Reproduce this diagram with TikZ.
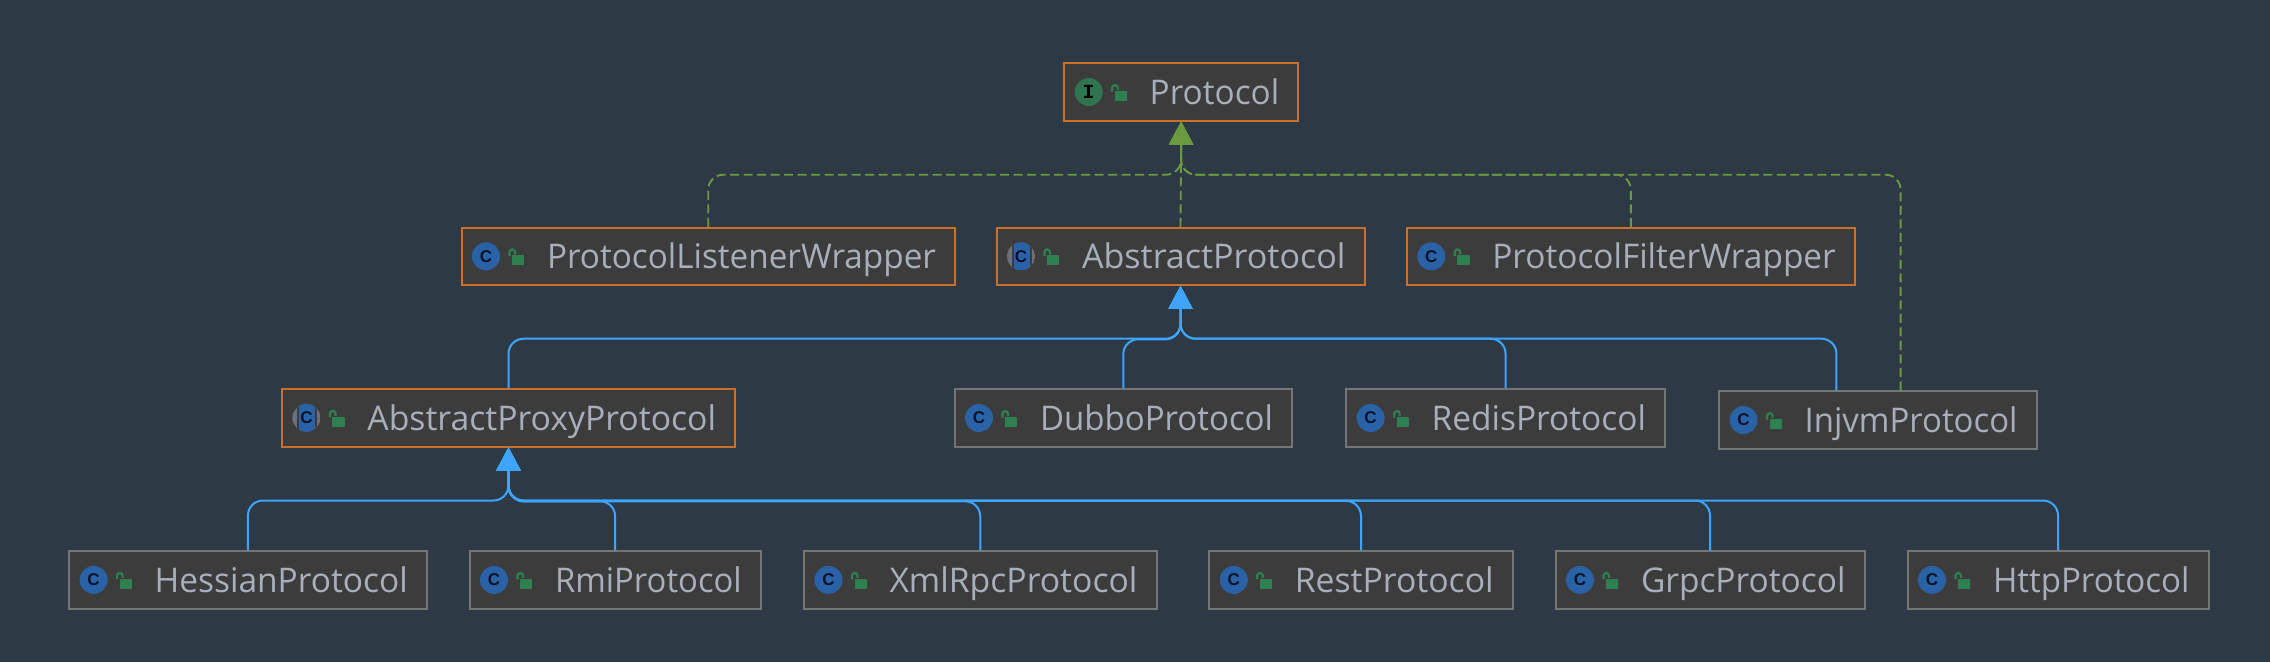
\documentclass[tikz,border=0pt]{standalone}
\usepackage{fontspec}
\setmainfont{Open Sans}
\newfontfamily\iconfont{Liberation Mono}
\newfontfamily\cfont{Liberation Sans}
\usetikzlibrary{arrows.meta}
\definecolor{bgc}{HTML}{2D3A46}
\definecolor{boxfill}{HTML}{3C3C3C}
\definecolor{orangeb}{HTML}{CC7029}
\definecolor{grayb}{HTML}{757575}
\definecolor{labelc}{HTML}{A7AFBC}
\definecolor{inhblue}{HTML}{3DA5FF}
\definecolor{implgreen}{HTML}{6A9A3F}
\definecolor{classblue}{HTML}{2A62A8}
\definecolor{ifacegreen}{HTML}{2E7550}
\definecolor{lockgreen}{HTML}{2F8050}
\definecolor{absgray}{HTML}{6F6E7E}
\definecolor{glyph}{HTML}{0A1228}
\tikzset{
  x=1pt,y=-1pt,
  umlbase/.style={draw,fill=boxfill,line width=2pt,inner sep=0pt,rectangle},
  selected/.style={umlbase,draw=orangeb},
  plain/.style={umlbase,draw=grayb},
  inh/.style={draw=inhblue,line width=2pt,rounded corners=15pt,-{Triangle[length=23pt,width=24pt]}},
  impl/.style={draw=implgreen,line width=1.9pt,dash pattern=on 9pt off 4.5pt,rounded corners=15pt,-{Triangle[length=23pt,width=24pt,fill=implgreen]}},
  labeltext/.style={text=labelc,anchor=base west,inner sep=0pt,outer sep=0pt},
  glyphtext/.style={text=glyph,inner sep=0pt,outer sep=0pt,font=\cfont\bfseries\fontsize{17}{17}\selectfont},
  iglyphtext/.style={text=black,inner sep=0pt,outer sep=0pt,font=\iconfont\bfseries\fontsize{20}{20}\selectfont}
}
\newcommand{\umlbox}[8]{%
  \pgfmathsetmacro{\cxv}{(#3+#5)/2}%
  \pgfmathsetmacro{\cyv}{(#4+#6)/2}%
  \pgfmathsetmacro{\wv}{#5-#3-1}%
  \pgfmathsetmacro{\hv}{#6-#4-1.5}%
  \pgfmathsetmacro{\twv}{#5-#3-105.5}%
  \node[#1,minimum width=\wv pt,minimum height=\hv pt] (#2) at (\cxv,\cyv) {};
  \node[labeltext] (#2-label) at (#3+86,\cyv+12.3) {\resizebox{\twv pt}{\height}{\fontsize{34}{40}\selectfont #7}};
  #8{#2}{#3}{\cyv}%
  \fill[lockgreen] (#3+51,\cyv-1.3) rectangle (#3+63.3,\cyv+8.7);
  \draw[lockgreen,line width=2.2pt,rounded corners=2.5pt] (#3+48.5,\cyv-0.5) -- (#3+48.5,\cyv-6.8) -- (#3+54,\cyv-6.8) -- (#3+54,\cyv-2);
}
\newcommand{\classicon}[3]{%
  \fill[classblue] (#2+25,#3) circle[radius=14];
  \node[glyphtext] (#1-icon) at (#2+25,#3) {C};
}
\newcommand{\ifaceicon}[3]{%
  \fill[ifacegreen] (#2+25,#3) circle[radius=14];
  \node[iglyphtext] (#1-icon) at (#2+25,#3) {I};
}
\newcommand{\absicon}[3]{%
  \begin{scope}
    \clip (#2+25,#3) circle[radius=14];
    \fill[absgray] (#2+11,#3-14) rectangle (#2+39,#3+14);
    \fill[boxfill] (#2+15.5,#3-14) rectangle (#2+35.5,#3+14);
    \fill[classblue] (#2+17.5,#3-14) rectangle (#2+33.5,#3+14);
  \end{scope}
  \node[glyphtext] (#1-icon) at (#2+25,#3) {C};
}
\begin{document}
\begin{tikzpicture}
\useasboundingbox[fill=bgc] (0,0) rectangle (2270,662);
\umlbox{selected}{protocol}{1063.7}{62.7}{1298.7}{121.3}{Protocol}{\ifaceicon}
\umlbox{selected}{listener}{461}{227}{955.5}{285.7}{ProtocolListenerWrapper}{\classicon}
\umlbox{selected}{abstract}{996}{227}{1365}{285.7}{AbstractProtocol}{\absicon}
\umlbox{selected}{filter}{1406.3}{227}{1855.3}{285.7}{ProtocolFilterWrapper}{\classicon}
\umlbox{selected}{proxy}{281.4}{388.3}{735.6}{447.3}{AbstractProxyProtocol}{\absicon}
\umlbox{plain}{dubbo}{954}{388.7}{1292.5}{447.3}{DubboProtocol}{\classicon}
\umlbox{plain}{redis}{1345.6}{388.7}{1665.5}{447.3}{RedisProtocol}{\classicon}
\umlbox{plain}{injvm}{1718.6}{390.7}{2037}{449.3}{InjvmProtocol}{\classicon}
\umlbox{plain}{hessian}{68.6}{550.5}{427.3}{609.3}{HessianProtocol}{\classicon}
\umlbox{plain}{rmi}{469}{550.5}{761.3}{609.3}{RmiProtocol}{\classicon}
\umlbox{plain}{xmlrpc}{803.5}{550.5}{1157}{609.3}{XmlRpcProtocol}{\classicon}
\umlbox{plain}{rest}{1208.8}{550.5}{1513.2}{609.3}{RestProtocol}{\classicon}
\umlbox{plain}{grpc}{1555}{550.5}{1865}{609.3}{GrpcProtocol}{\classicon}
\umlbox{plain}{http}{1907}{550.5}{2209}{609.3}{HttpProtocol}{\classicon}
\coordinate (hubi) at (1181,174.7);
\coordinate (hubp) at (1180.5,338.7);
\coordinate (hubpb) at (1180.5,339.3);
\coordinate (hubr) at (508.5,500.5);
\coordinate (hubrb) at (508.5,501.3);
\coordinate (hubrc) at (508.5,500.9);
\draw[impl] (listener.north) |- (hubi) -- (protocol.south);
\draw[impl] (abstract.north) -- (protocol.south);
\draw[impl] (filter.north) |- (hubi) -- (protocol.south);
\draw[impl] ([xshift=22.8pt]injvm.north) |- (hubi) -- (protocol.south);
\draw[inh] (proxy.north) |- (hubp) -- (abstract.south);
\draw[inh] (dubbo.north) |- (hubpb) -- (abstract.south);
\draw[inh] (redis.north) |- (hubp) -- (abstract.south);
\draw[inh] ([xshift=-41.4pt]injvm.north) |- (hubp) -- (abstract.south);
\draw[inh] (hessian.north) |- (hubr) -- (proxy.south);
\draw[inh] (rmi.north) |- (hubrb) -- (proxy.south);
\draw[inh] (xmlrpc.north) |- (hubrb) -- (proxy.south);
\draw[inh] (rest.north) |- (hubrc) -- (proxy.south);
\draw[inh] (grpc.north) |- (hubr) -- (proxy.south);
\draw[inh] (http.north) |- (hubr) -- (proxy.south);
\end{tikzpicture}
\end{document}
